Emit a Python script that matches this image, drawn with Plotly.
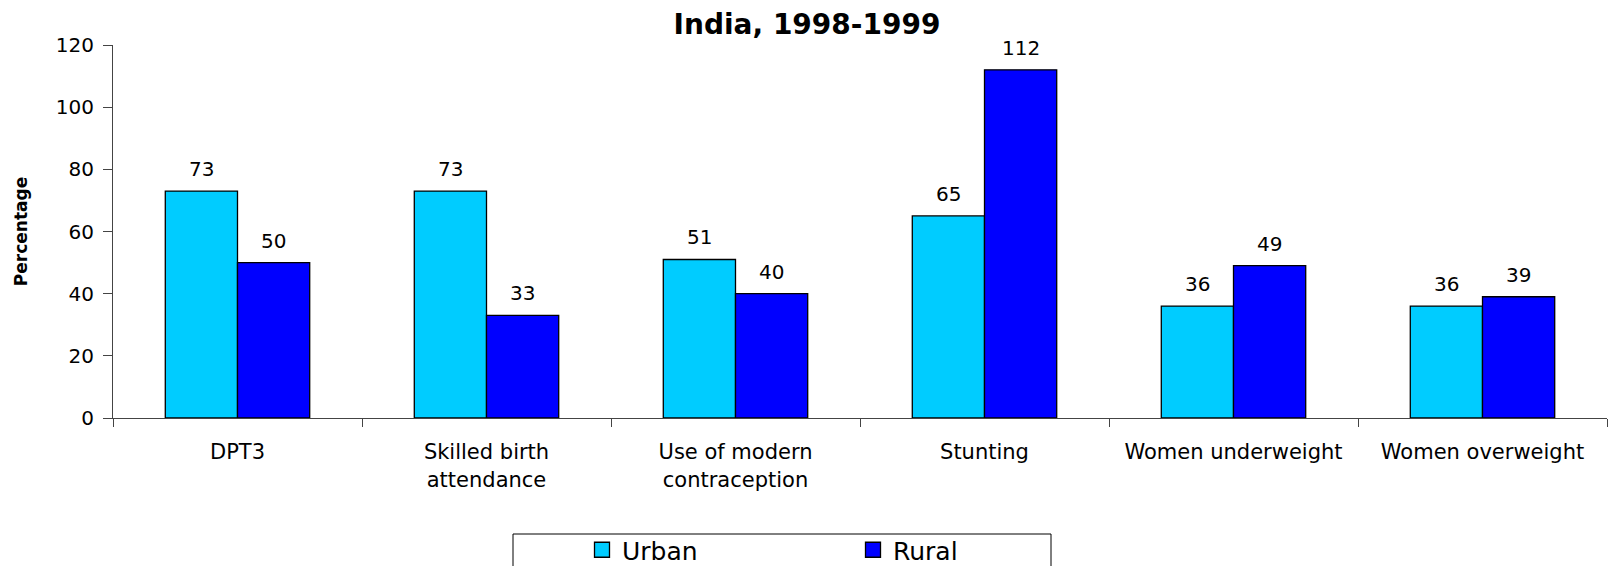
import plotly.graph_objects as go

categories = ["DPT3", "Skilled birth<br>attendance", "Use of modern<br>contraception",
              "Stunting", "Women underweight", "Women overweight"]
urban = [73, 73, 51, 65, 36, 36]
rural = [50, 33, 40, 112, 49, 39]
y_ticks = [0, 20, 40, 60, 80, 100, 120]

FONT = "DejaVu Sans"
URBAN_C, RURAL_C = "#00CCFF", "#0000FF"
L, R, T, B = 113, 1, 45, 148
W, H = 1608, 566
BARGAP = 0.42

fig = go.Figure()
for name, vals, col in [("Urban", urban, URBAN_C), ("Rural", rural, RURAL_C)]:
    fig.add_trace(go.Bar(
        x=categories, y=vals, name=name, showlegend=False,
        marker=dict(color=col, line=dict(color="black", width=1.3)),
    ))
# legend entries (larger square swatches)
for name, col in [("Urban", URBAN_C), ("Rural", RURAL_C)]:
    fig.add_trace(go.Scatter(
        x=[None], y=[None], mode="markers", name=name,
        marker=dict(symbol="square", size=15, color=col, line=dict(color="black", width=1.3)),
    ))

pw = W - L - R
ph = H - T - B
half = pw / len(categories) * (1 - BARGAP) / 4  # offset of each bar centre from category centre

def px_x(p):
    return (p - L) / pw

def px_y(p):
    return (H - B - p) / ph

annotations = []
for cat, u, r in zip(categories, urban, rural):
    for v, sh in [(u, -half), (r, half)]:
        annotations.append(dict(
            x=cat, y=v, xref="x", yref="y", text=str(v), showarrow=False,
            xshift=sh, yshift=8, yanchor="bottom", xanchor="center",
            font=dict(size=20, family=FONT, color="black"),
        ))

fig.update_layout(
    width=W, height=H,
    margin=dict(l=L, r=R, t=T, b=B, autoexpand=False),
    paper_bgcolor="white", plot_bgcolor="white",
    font=dict(family=FONT, color="black"),
    barmode="group", bargap=BARGAP, bargroupgap=0,
    title=dict(text="<b>India, 1998-1999</b>", x=807 / W, xref="container", xanchor="center",
               y=1 - 24 / H, yref="container", yanchor="middle",
               font=dict(size=28, family=FONT, color="black")),
    xaxis=dict(
        showline=True, linecolor="#444", linewidth=1,
        ticks="outside", tickson="boundaries", ticklen=8, tickcolor="#444",
        ticklabelstandoff=15,
        tickfont=dict(size=21, family=FONT, color="black"),
        showgrid=False, automargin=False,
    ),
    yaxis=dict(
        range=[0, 120], tickvals=y_ticks, showline=True, linecolor="#444", linewidth=1,
        ticks="outside", ticklen=9, tickcolor="#444", ticklabelstandoff=5,
        tickfont=dict(size=20, family=FONT, color="black"),
        showgrid=False, zeroline=False, automargin=False,
        title=dict(text="<b>Percentage</b>", font=dict(size=17, family=FONT, color="black"),
                   standoff=23),
    ),
    showlegend=True,
    legend=dict(
        orientation="h", x=px_x(582), xanchor="left", y=px_y(527), yanchor="top",
        font=dict(size=25, family=FONT, color="black"),
        entrywidth=226, entrywidthmode="pixels",
        bgcolor="rgba(0,0,0,0)", borderwidth=0,
    ),
    annotations=annotations,
    shapes=[dict(type="rect", xref="paper", yref="paper",
                 x0=px_x(513), x1=px_x(1051), y0=px_y(534), y1=px_y(580),
                 line=dict(color="black", width=1), fillcolor="rgba(0,0,0,0)", layer="below")],
)

fig.write_html("out.html", config={"displayModeBar": False},
               post_script="document.body.style.margin='0';")
